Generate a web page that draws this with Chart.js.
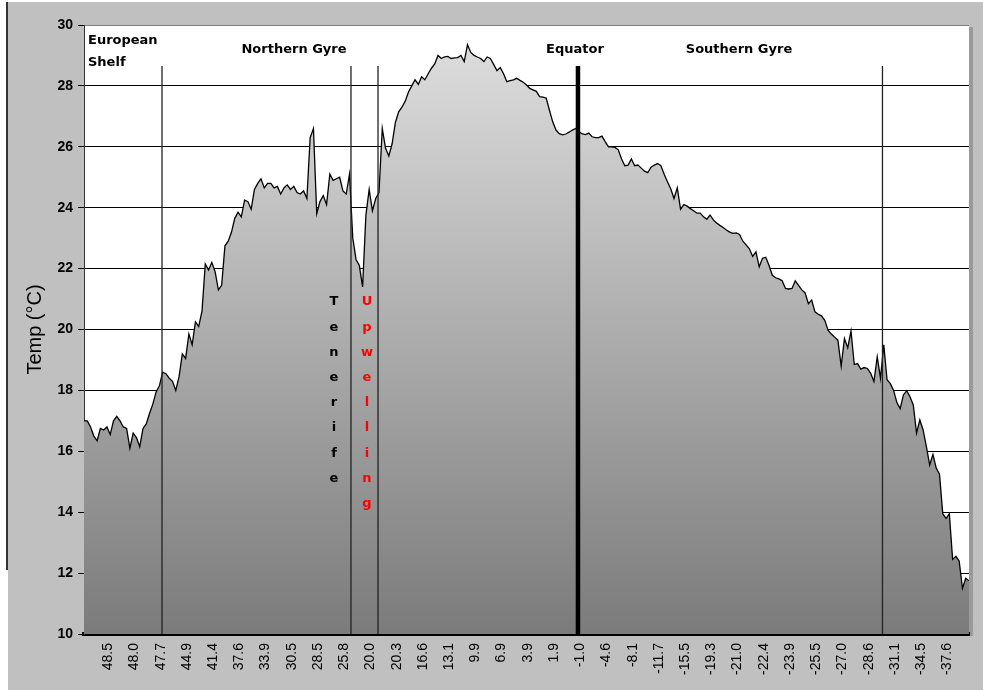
<!DOCTYPE html>
<html lang="en">
<head>
<meta charset="UTF-8">
<title>Surface temperature transect</title>
<script src="https://cdn.jsdelivr.net/npm/chart.js"></script>
<style>
  html, body { margin: 0; padding: 0; background: #fff; }
  #wrap { width: 983px; height: 690px; }
</style>
</head>
<body>
<div id="wrap"><canvas id="tempChart" width="983" height="690"></canvas></div>
<script>
// latitude labels under the axis, one every 8 samples
const tickLabels = ['48.5', '48.0', '47.7', '44.9', '41.4', '37.6', '33.9', '30.5', '28.5', '25.8',
    '20.0', '20.3', '16.6', '13.1', '9.9', '6.9', '3.9', '1.9', '-1.0', '-4.6', '-8.1', '-11.7',
    '-15.5', '-19.3', '-21.0', '-22.4', '-23.9', '-25.5', '-27.0', '-28.6', '-31.1', '-34.5', '-37.6'];

// surface temperature (°C) along the cruise track
const temps = [
    17.0, 17.0, 16.8, 16.5, 16.35, 16.75, 16.7, 16.8, 16.55, 17.0,
    17.15, 17.0, 16.8, 16.75, 16.1, 16.6, 16.45, 16.15, 16.75, 16.9,
    17.25, 17.55, 17.95, 18.15, 18.6, 18.55, 18.4, 18.3, 18.0, 18.45,
    19.2, 19.05, 19.85, 19.5, 20.25, 20.1, 20.6, 22.15, 21.95, 22.2,
    21.9, 21.3, 21.45, 22.75, 22.9, 23.2, 23.65, 23.85, 23.7, 24.25,
    24.2, 23.95, 24.6, 24.8, 24.95, 24.65, 24.8, 24.8, 24.65, 24.7,
    24.45, 24.65, 24.75, 24.6, 24.7, 24.5, 24.45, 24.55, 24.3, 26.3,
    26.6, 23.8, 24.2, 24.4, 24.1, 25.1, 24.9, 24.95, 25.0, 24.55,
    24.45, 25.1, 23.0, 22.3, 22.1, 21.4, 23.75, 24.6, 23.9, 24.3,
    24.5, 26.6, 25.95, 25.7, 26.1, 26.8, 27.15, 27.3, 27.5, 27.8,
    28.0, 28.2, 28.05, 28.3, 28.2, 28.4, 28.58, 28.72, 29.0, 28.9,
    28.95, 28.97, 28.9, 28.92, 28.93, 29.0, 28.8, 29.35, 29.1, 29.0,
    28.95, 28.9, 28.8, 28.95, 28.9, 28.7, 28.5, 28.6, 28.4, 28.14,
    28.17, 28.2, 28.25, 28.18, 28.12, 28.03, 27.92, 27.87, 27.82, 27.65,
    27.63, 27.6, 27.2, 26.82, 26.55, 26.43, 26.39, 26.42, 26.48, 26.55,
    26.6, 26.5, 26.42, 26.4, 26.45, 26.33, 26.3, 26.3, 26.35, 26.17,
    26.0, 26.0, 25.98, 25.9, 25.6, 25.38, 25.4, 25.6, 25.38, 25.4,
    25.3, 25.2, 25.15, 25.33, 25.4, 25.45, 25.38, 25.1, 24.85, 24.62,
    24.3, 24.65, 23.95, 24.1, 24.05, 23.97, 23.9, 23.82, 23.82, 23.7,
    23.62, 23.76, 23.6, 23.5, 23.42, 23.35, 23.27, 23.2, 23.16, 23.17,
    23.12, 22.9, 22.78, 22.65, 22.4, 22.55, 22.06, 22.34, 22.37, 22.1,
    21.78, 21.7, 21.66, 21.6, 21.35, 21.33, 21.35, 21.6, 21.45, 21.3,
    21.2, 20.85, 20.97, 20.58, 20.5, 20.45, 20.3, 19.98, 19.85, 19.75,
    19.65, 18.8, 19.7, 19.4, 19.95, 18.85, 18.88, 18.7, 18.75, 18.72,
    18.56, 18.29, 19.1, 18.4, 19.5, 18.35, 18.22, 18.0, 17.6, 17.4,
    17.85, 17.99, 17.79, 17.52, 16.6, 17.03, 16.7, 16.15, 15.55, 15.9,
    15.45, 15.25, 13.95, 13.8, 13.95, 12.45, 12.55, 12.4, 11.5, 11.83,
    11.75
];

// section boundaries (sample index) and the equator
const sectionLines = [23.8, 81.45, 89.7, 243.6];
const equatorLine = 150.7;
const lineTop = 28.65;

const firstTick = 7.4;
const tickStep = 8;
const tickPositions = tickLabels.map((l, i) => firstTick + i * tickStep);

const datasets = [];
sectionLines.forEach(x => {
    datasets.push({
        data: [{x: x, y: 10}, {x: x, y: lineTop}],
        borderColor: '#222', borderWidth: 1.3, pointRadius: 0, fill: false, order: 0
    });
});
datasets.push({
    data: [{x: equatorLine, y: 10}, {x: equatorLine, y: lineTop}],
    borderColor: '#000', borderWidth: 4.5, pointRadius: 0, fill: false, order: 0
});
datasets.push({
    data: temps.map((t, i) => ({x: i, y: t})),
    borderColor: '#000',
    borderWidth: 1.3,
    pointRadius: 0,
    tension: 0,
    fill: 'start',
    order: 1,
    backgroundColor: function(ctx) {
        const a = ctx.chart.chartArea;
        if (!a) return '#aaa';
        const g = ctx.chart.ctx.createLinearGradient(0, a.top, 0, a.bottom);
        g.addColorStop(0, '#e0e0e0');
        g.addColorStop(1, '#7b7b7b');
        return g;
    }
});

const frame = {
    id: 'frame',
    beforeDraw(chart) {
        const c = chart.ctx, a = chart.chartArea;
        c.save();
        c.fillStyle = '#fff';
        c.fillRect(0, 0, chart.width, chart.height);
        c.fillStyle = '#c0c0c0';
        c.fillRect(8, 2, chart.width - 8, chart.height - 2);
        c.fillStyle = '#333';
        c.fillRect(6, 2, 2, 568);
        c.fillStyle = '#fff';
        c.fillRect(a.left, a.top, a.right - a.left, a.bottom - a.top);
        c.fillStyle = '#9a9a9a';
        c.fillRect(a.right, a.top + 2, 4, a.bottom - a.top);
        c.restore();
    },
    afterDatasetsDraw(chart) {
        const c = chart.ctx;
        c.save();
        c.fillStyle = '#000';
        c.font = 'bold 13px "DejaVu Sans", sans-serif';
        c.textBaseline = 'middle';
        c.textAlign = 'left';
        c.fillText('European', 88, 41);
        c.fillText('Shelf', 88, 63);
        c.textAlign = 'center';
        c.fillText('Northern Gyre', 294, 50);
        c.fillText('Equator', 575, 50);
        c.fillText('Southern Gyre', 739, 50);
        'Tenerife'.split('').forEach((ch, k) => c.fillText(ch, 334, 302 + 25.2 * k));
        c.fillStyle = '#ff0000';
        'Upwelling'.split('').forEach((ch, k) => c.fillText(ch, 367, 302 + 25.2 * k));
        c.restore();
    }
};

new Chart(document.getElementById('tempChart'), {
    type: 'line',
    data: { datasets: datasets },
    plugins: [frame],
    options: {
        responsive: false,
        devicePixelRatio: 1,
        animation: false,
        layout: { padding: { left: 0, top: 25, right: 14, bottom: 0 } },
        plugins: { legend: { display: false }, tooltip: { enabled: false } },
        scales: {
            x: {
                type: 'linear',
                min: 0,
                max: 270,
                afterBuildTicks: scale => { scale.ticks = tickPositions.map(v => ({value: v})); },
                afterFit: scale => { scale.height = 56; },
                grid: { display: false, drawTicks: false },
                border: { display: true, color: '#000', width: 4 },
                ticks: {
                    autoSkip: false,
                    maxRotation: 90,
                    minRotation: 90,
                    padding: 9,
                    color: '#000',
                    font: { family: '"Liberation Sans", Arial, sans-serif', size: 14 },
                    callback: (v, i) => tickLabels[i]
                }
            },
            y: {
                min: 10,
                max: 30,
                afterFit: scale => { scale.width = 84; },
                grid: {
                    color: ctx => (ctx.tick && ctx.tick.value === 30) ? '#808080' : '#000',
                    lineWidth: 1,
                    tickLength: 6,
                    tickColor: '#000'
                },
                border: { display: true, color: '#333', width: 1 },
                ticks: {
                    stepSize: 2,
                    padding: 5,
                    color: '#000',
                    font: { family: '"Liberation Sans", Arial, sans-serif', size: 14, weight: 'bold' }
                },
                title: {
                    display: true,
                    text: 'Temp (°C)',
                    color: '#000',
                    padding: { top: 23, bottom: 0 },
                    font: { family: '"Liberation Sans", Arial, sans-serif', size: 20 }
                }
            }
        }
    }
});
</script>
</body>
</html>
